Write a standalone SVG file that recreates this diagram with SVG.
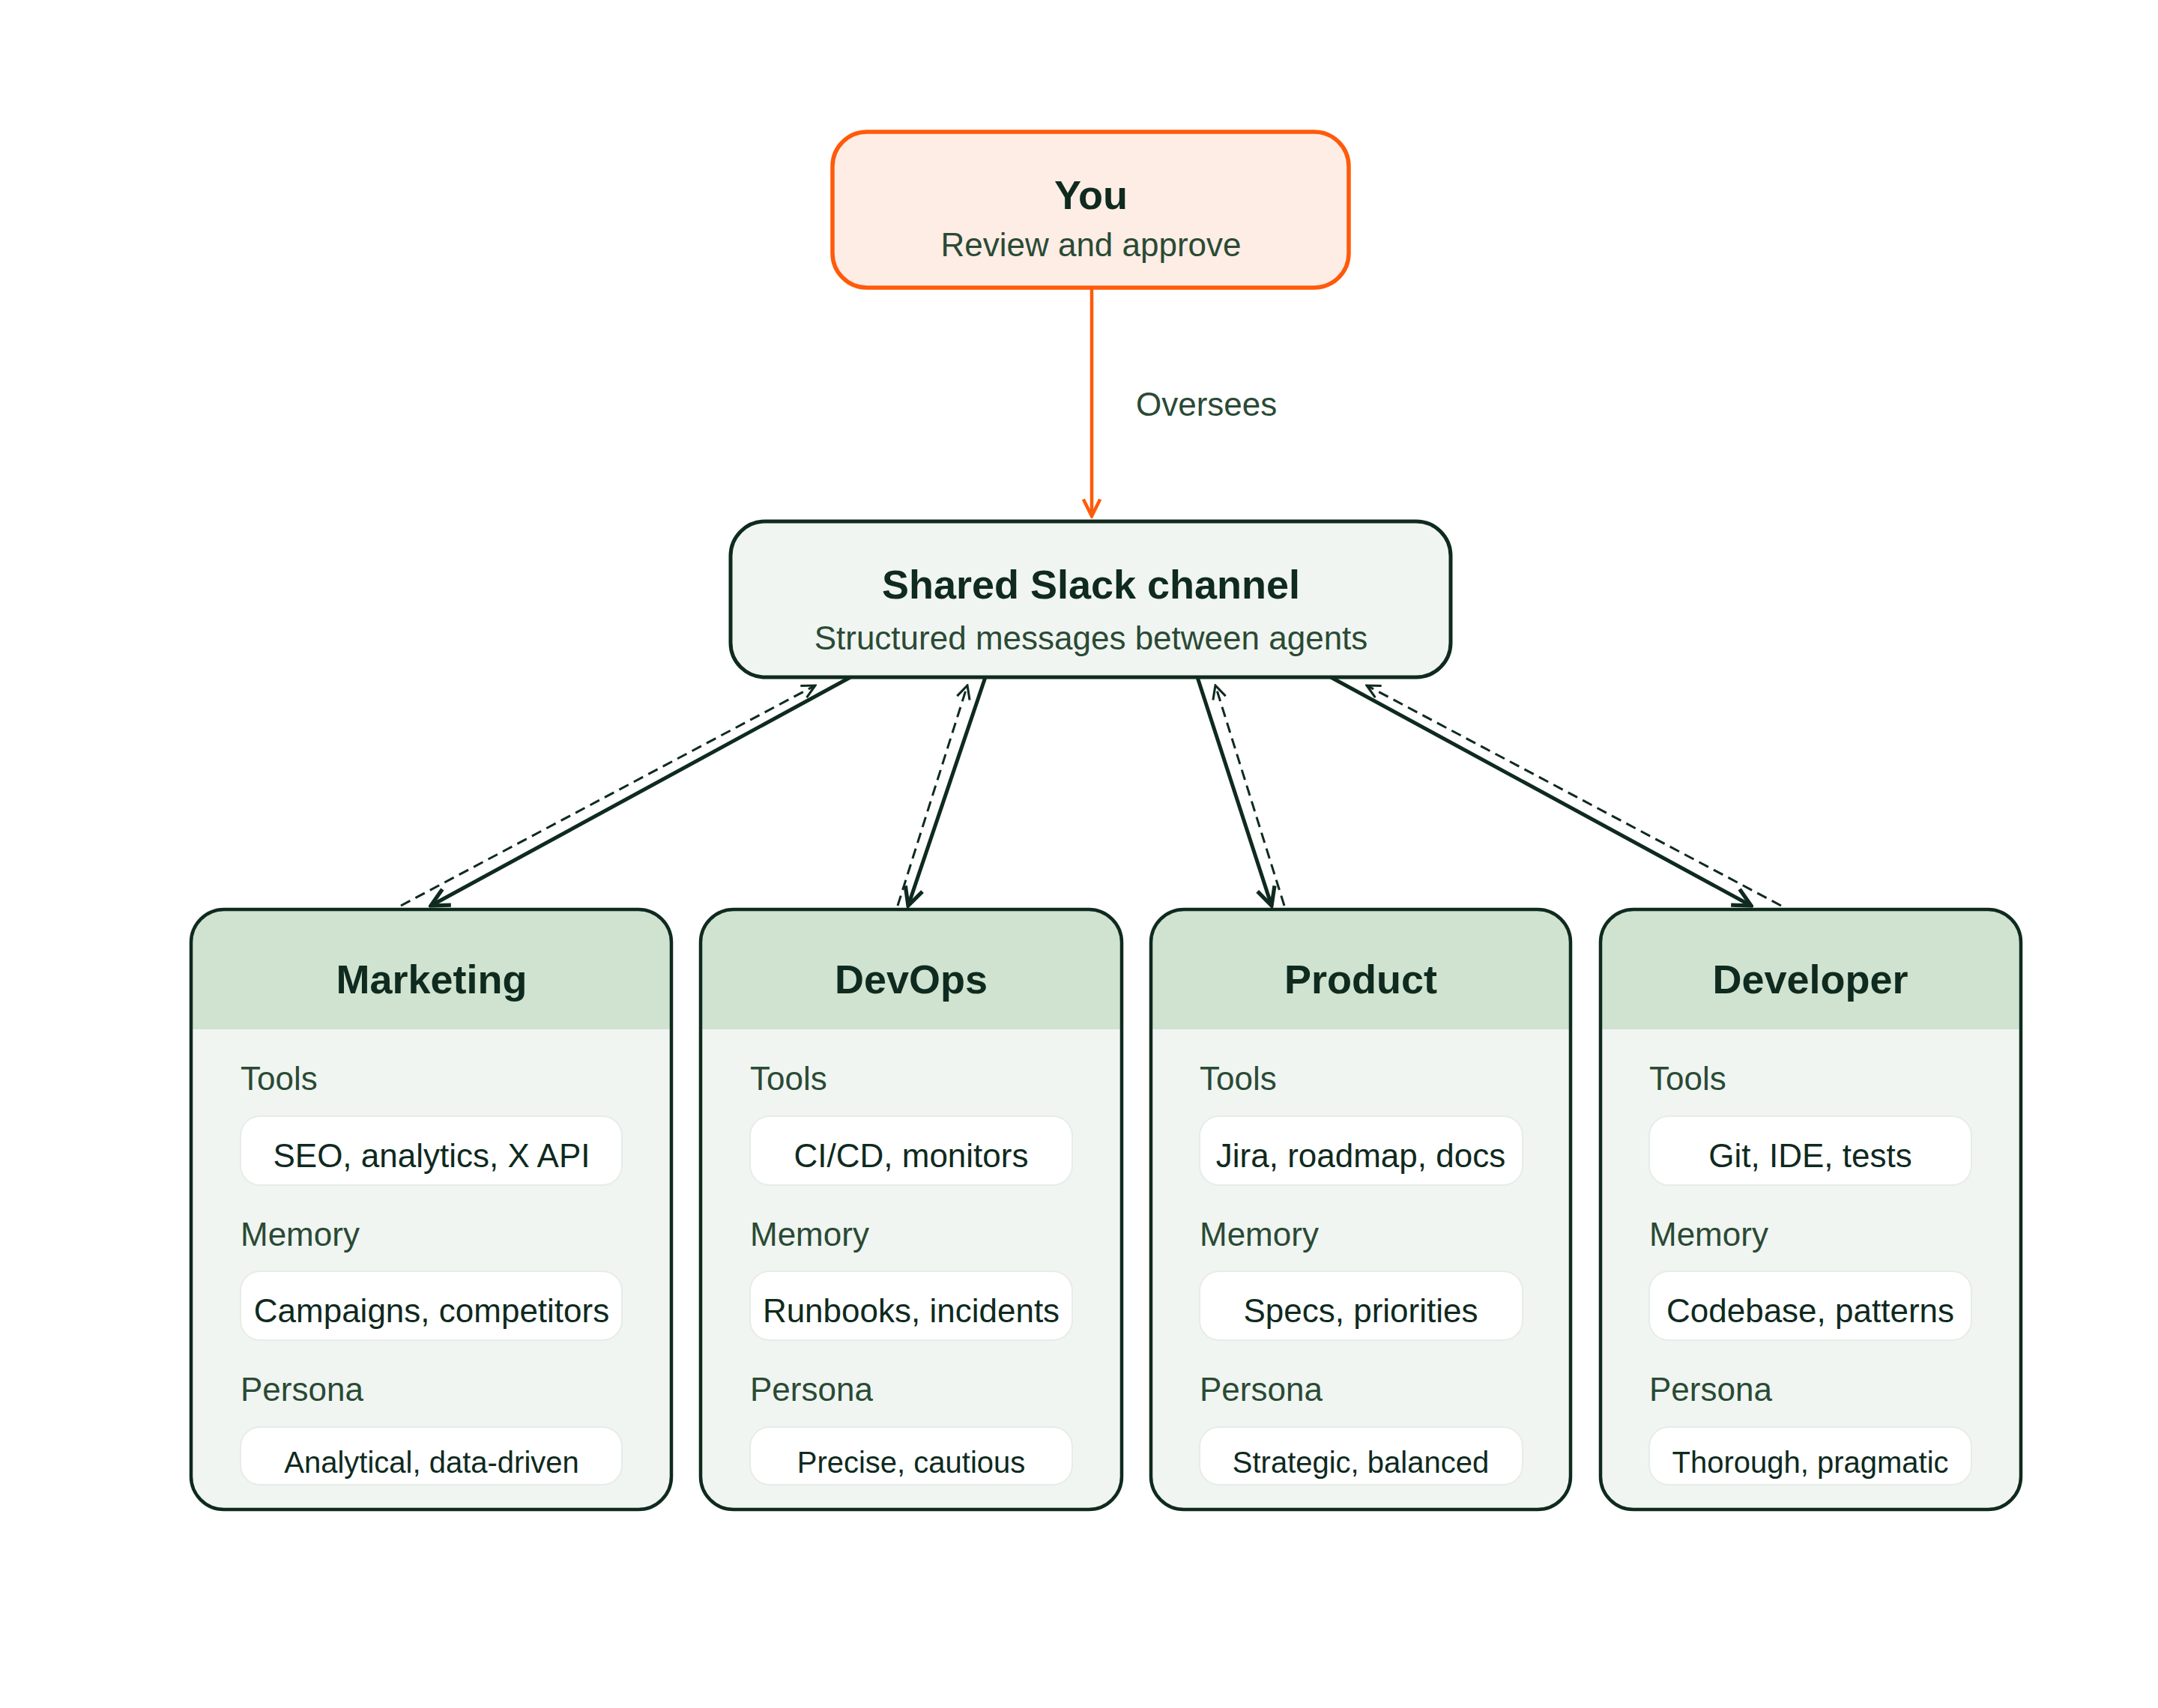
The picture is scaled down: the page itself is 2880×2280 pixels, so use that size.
<svg xmlns="http://www.w3.org/2000/svg" width="2880" height="2280" viewBox="0 0 2880 2280" font-family="'Liberation Sans', Arial, Helvetica, sans-serif">
<style>
text{font-family:'Liberation Sans',Arial,Helvetica,sans-serif}
.t{font-weight:bold;font-size:54px;fill:#0F2A1E;text-anchor:middle}
.s{font-size:44px;fill:#2A4A35;text-anchor:middle}
.l{font-size:44px;fill:#2A4A35}
.p{font-size:44px;fill:#0F2A1E;text-anchor:middle}
.p2{font-size:40px;fill:#0F2A1E;text-anchor:middle}
.pill{fill:#FFFFFF;stroke:#E6ECE7;stroke-width:2}
.frame{fill:none;stroke:#0F2A1E;stroke-width:4.5}
.solid{stroke:#0F2A1E;stroke-width:5;fill:none}
.dash{stroke:#0F2A1E;stroke-width:3;fill:none;stroke-dasharray:14 8}
</style>
<defs>
<marker id="ah" viewBox="0 0 20 20" refX="18" refY="10" markerWidth="30" markerHeight="30" markerUnits="userSpaceOnUse" orient="auto"><path d="M2,2 L18,10 L2,18" fill="none" stroke="#0F2A1E" stroke-width="3.5"/></marker>
<marker id="ahs" viewBox="0 0 20 20" refX="18" refY="10" markerWidth="22" markerHeight="22" markerUnits="userSpaceOnUse" orient="auto"><path d="M2,2 L18,10 L2,18" fill="none" stroke="#0F2A1E" stroke-width="2.8"/></marker>
<marker id="aho" viewBox="0 0 20 20" refX="18" refY="10" markerWidth="28" markerHeight="28" markerUnits="userSpaceOnUse" orient="auto"><path d="M2,2 L18,10 L2,18" fill="none" stroke="#FF5A0A" stroke-width="3.2"/></marker>
<clipPath id="c1"><rect x="255" y="1214" width="641" height="801" rx="44"/></clipPath>
<clipPath id="c2"><rect x="935" y="1214" width="562" height="801" rx="44"/></clipPath>
<clipPath id="c3"><rect x="1536" y="1214" width="560" height="801" rx="44"/></clipPath>
<clipPath id="c4"><rect x="2136" y="1214" width="561" height="801" rx="44"/></clipPath>
</defs>
<rect width="2880" height="2280" fill="#FFFFFF"/>
<g id="connectors">
<line x1="1457" y1="384" x2="1457" y2="689" stroke="#FF5A0A" stroke-width="4.5" marker-end="url(#aho)"/>
<text class="l" x="1516" y="555">Oversees</text>
<line class="solid" x1="1135" y1="904" x2="575" y2="1209" marker-end="url(#ah)"/>
<line class="dash" x1="535" y1="1209" x2="1088" y2="915" marker-end="url(#ahs)"/>
<line class="solid" x1="1315" y1="904" x2="1212" y2="1209" marker-end="url(#ah)"/>
<line class="dash" x1="1198" y1="1209" x2="1291" y2="915" marker-end="url(#ahs)"/>
<line class="solid" x1="1598" y1="904" x2="1697" y2="1209" marker-end="url(#ah)"/>
<line class="dash" x1="1714" y1="1209" x2="1622" y2="915" marker-end="url(#ahs)"/>
<line class="solid" x1="1776" y1="904" x2="2337" y2="1209" marker-end="url(#ah)"/>
<line class="dash" x1="2377" y1="1209" x2="1824" y2="915" marker-end="url(#ahs)"/>
</g>
<g id="you">
<rect x="1111" y="176" width="689" height="208" rx="46" fill="#FEEDE5" stroke="#FF5A0A" stroke-width="5.5"/>
<text class="t" x="1456" y="279">You</text>
<text class="s" x="1456" y="342">Review and approve</text>
</g>
<g id="slack">
<rect x="975" y="696" width="961" height="208" rx="46" fill="#F0F5F1" stroke="#0F2A1E" stroke-width="5"/>
<text class="t" x="1456" y="799">Shared Slack channel</text>
<text class="s" x="1456" y="867">Structured messages between agents</text>
</g>
<g id="marketing">
<g clip-path="url(#c1)"><rect x="255" y="1214" width="641" height="801" fill="#F0F5F1"/><rect x="255" y="1214" width="641" height="160" fill="#CFE3D0"/></g>
<rect class="frame" x="255" y="1214" width="641" height="801" rx="44"/>
<text class="t" x="576" y="1326">Marketing</text>
<text class="l" x="321" y="1455">Tools</text>
<rect class="pill" x="321" y="1490" width="509" height="92" rx="26"/>
<text class="p" x="576" y="1558">SEO, analytics, X API</text>
<text class="l" x="321" y="1663">Memory</text>
<rect class="pill" x="321" y="1697" width="509" height="92" rx="26"/>
<text class="p" x="576" y="1765">Campaigns, competitors</text>
<text class="l" x="321" y="1870">Persona</text>
<rect class="pill" x="321" y="1905" width="509" height="77" rx="26"/>
<text class="p2" x="576" y="1966">Analytical, data-driven</text>
</g>
<g id="devops">
<g clip-path="url(#c2)"><rect x="935" y="1214" width="562" height="801" fill="#F0F5F1"/><rect x="935" y="1214" width="562" height="160" fill="#CFE3D0"/></g>
<rect class="frame" x="935" y="1214" width="562" height="801" rx="44"/>
<text class="t" x="1216" y="1326">DevOps</text>
<text class="l" x="1001" y="1455">Tools</text>
<rect class="pill" x="1001" y="1490" width="430" height="92" rx="26"/>
<text class="p" x="1216" y="1558">CI/CD, monitors</text>
<text class="l" x="1001" y="1663">Memory</text>
<rect class="pill" x="1001" y="1697" width="430" height="92" rx="26"/>
<text class="p" x="1216" y="1765">Runbooks, incidents</text>
<text class="l" x="1001" y="1870">Persona</text>
<rect class="pill" x="1001" y="1905" width="430" height="77" rx="26"/>
<text class="p2" x="1216" y="1966">Precise, cautious</text>
</g>
<g id="product">
<g clip-path="url(#c3)"><rect x="1536" y="1214" width="560" height="801" fill="#F0F5F1"/><rect x="1536" y="1214" width="560" height="160" fill="#CFE3D0"/></g>
<rect class="frame" x="1536" y="1214" width="560" height="801" rx="44"/>
<text class="t" x="1816" y="1326">Product</text>
<text class="l" x="1601" y="1455">Tools</text>
<rect class="pill" x="1601" y="1490" width="431" height="92" rx="26"/>
<text class="p" x="1816" y="1558">Jira, roadmap, docs</text>
<text class="l" x="1601" y="1663">Memory</text>
<rect class="pill" x="1601" y="1697" width="431" height="92" rx="26"/>
<text class="p" x="1816" y="1765">Specs, priorities</text>
<text class="l" x="1601" y="1870">Persona</text>
<rect class="pill" x="1601" y="1905" width="431" height="77" rx="26"/>
<text class="p2" x="1816" y="1966">Strategic, balanced</text>
</g>
<g id="developer">
<g clip-path="url(#c4)"><rect x="2136" y="1214" width="561" height="801" fill="#F0F5F1"/><rect x="2136" y="1214" width="561" height="160" fill="#CFE3D0"/></g>
<rect class="frame" x="2136" y="1214" width="561" height="801" rx="44"/>
<text class="t" x="2416" y="1326">Developer</text>
<text class="l" x="2201" y="1455">Tools</text>
<rect class="pill" x="2201" y="1490" width="430" height="92" rx="26"/>
<text class="p" x="2416" y="1558">Git, IDE, tests</text>
<text class="l" x="2201" y="1663">Memory</text>
<rect class="pill" x="2201" y="1697" width="430" height="92" rx="26"/>
<text class="p" x="2416" y="1765">Codebase, patterns</text>
<text class="l" x="2201" y="1870">Persona</text>
<rect class="pill" x="2201" y="1905" width="430" height="77" rx="26"/>
<text class="p2" x="2416" y="1966">Thorough, pragmatic</text>
</g>
</svg>
